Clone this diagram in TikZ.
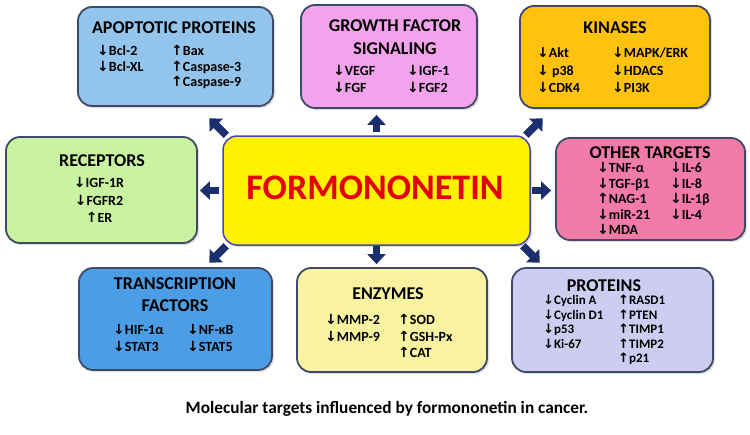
\documentclass[tikz,border=0pt]{standalone}
\usepackage{fontspec}
\setmainfont{Carlito}
\newfontfamily\arrfont{DejaVu Sans}
\usetikzlibrary{arrows.meta,shadows}

\definecolor{apoblue}{HTML}{93C5EC}
\definecolor{growpink}{HTML}{F3A2EC}
\definecolor{kingold}{HTML}{FFC20E}
\definecolor{recgreen}{HTML}{C9F3A0}
\definecolor{othpink}{HTML}{F37BA8}
\definecolor{tfblue}{HTML}{4B9DE6}
\definecolor{enzyellow}{HTML}{F9F2A0}
\definecolor{protlav}{HTML}{CDCDF2}
\definecolor{edgegray}{HTML}{3E4A66}
\definecolor{navy}{HTML}{1B2F6E}
\definecolor{fmred}{HTML}{E2000F}

\newcommand{\dn}{{\arrfont\char"2193}}
\newcommand{\up}{{\arrfont\char"2191}}

\begin{document}
\begin{tikzpicture}[x=1pt, y=-1pt,
    box/.style={draw=edgegray, line width=1.8pt, rounded corners=14pt,
        drop shadow={opacity=0.25, shadow xshift=2pt, shadow yshift=-2pt}},
    ttl/.style={font=\bfseries\fontsize{18}{20}\selectfont, inner sep=0, anchor=base},
    item/.style={font=\bfseries\fontsize{14}{16}\selectfont, inner sep=0, anchor=base west},
    blk/.style={draw=navy, line width=7.5pt, -{Triangle[width=18pt, length=10pt]}}]
    \useasboundingbox (0,0) rectangle (750,434);

    % boxes
    \node[box, fill=apoblue, minimum width=195pt, minimum height=99pt] (apo) at (175.5,56.5) {};
    \node[box, fill=growpink, minimum width=176pt, minimum height=103pt] (gf) at (389,56.5) {};
    \node[box, fill=kingold, minimum width=190pt, minimum height=102pt] (kin) at (615,57) {};
    \node[box, fill=recgreen, minimum width=191pt, minimum height=106pt] (rc) at (101.5,190) {};
    \node[box, fill=othpink, minimum width=189pt, minimum height=102pt] (ot) at (650.5,189) {};
    \node[box, fill=tfblue, minimum width=193pt, minimum height=102pt] (tf) at (175.5,319) {};
    \node[box, fill=enzyellow, minimum width=190pt, minimum height=104pt] (en) at (392,320) {};
    \node[box, fill=protlav, minimum width=201pt, minimum height=104pt] (pr) at (612.5,320) {};
    \node[draw=blue!45!gray, line width=1.5pt, fill=yellow, rounded corners=14pt,
        minimum width=307pt, minimum height=109pt,
        drop shadow={opacity=0.25, shadow xshift=2pt, shadow yshift=-2pt}] (fm) at (376.5,190.5) {};
    \node[inner sep=0, anchor=base, text=fmred, font=\bfseries\fontsize{36}{40}\selectfont]
        (fmtxt) at (375,199.5) {FORMONONETIN};

    % titles
    \node[ttl] (apottl) at (174,33) {APOPTOTIC PROTEINS};
    \node[ttl] (gfttl) at (395,31) {GROWTH FACTOR};
    \node[ttl] (gfttlb) at (395,54) {SIGNALING};
    \node[ttl] (kinttl) at (615,33) {KINASES};
    \node[ttl] (rcttl) at (102,166) {RECEPTORS};
    \node[ttl] (otttl) at (650,158) {OTHER TARGETS};
    \node[ttl] (tfttl) at (175,289) {TRANSCRIPTION};
    \node[ttl] (tfttlb) at (175,311) {FACTORS};
    \node[ttl] (enttl) at (388,299) {ENZYMES};
    \node[ttl] (prttl) at (604,291) {PROTEINS};

    % items
    \foreach \t [count=\i] in {\dn Bcl-2, \dn Bcl-XL}
        \node[item] (apoa\i) at (97,{55.5+15.5*(\i-1)}) {\t};
    \foreach \t [count=\i] in {\up Bax, \up Caspase-3, \up Caspase-9}
        \node[item] (apob\i) at (171,{55.5+15.5*(\i-1)}) {\t};
    \foreach \t [count=\i] in {\dn VEGF, \dn FGF}
        \node[item] (gfa\i) at (333,{75.5+17*(\i-1)}) {\t};
    \foreach \t [count=\i] in {\dn IGF-1, \dn FGF2}
        \node[item] (gfb\i) at (407,{75.5+17*(\i-1)}) {\t};
    \foreach \t [count=\i] in {\dn Akt, \dn\ p38, \dn CDK4}
        \node[item] (kina\i) at (537,{57.5+17.5*(\i-1)}) {\t};
    \foreach \t [count=\i] in {\dn MAPK/ERK, \dn HDACS, \dn PI3K}
        \node[item] (kinb\i) at (612,{57.5+17.5*(\i-1)}) {\t};
    \foreach \t [count=\i] in {\dn IGF-1R, \dn FGFR2, \up ER}
        \node[item, anchor=base] (rca\i) at (99,{187.5+17.5*(\i-1)}) {\t};
    \foreach \t [count=\i] in {\dn TNF-α, \dn TGF-β1, \up NAG-1, \dn miR-21, \dn MDA}
        \node[item] (ota\i) at (597,{172.5+15.5*(\i-1)}) {\t};
    \foreach \t [count=\i] in {\dn IL-6, \dn IL-8, \dn IL-1β, \dn IL-4}
        \node[item] (otb\i) at (670,{172.5+15.5*(\i-1)}) {\t};
    \foreach \t [count=\i] in {\dn HIF-1α, \dn STAT3}
        \node[item] (tfa\i) at (113,{334.5+17*(\i-1)}) {\t};
    \foreach \t [count=\i] in {\dn NF-κB, \dn STAT5}
        \node[item] (tfb\i) at (187,{334.5+17*(\i-1)}) {\t};
    \foreach \t [count=\i] in {\dn MMP-2, \dn MMP-9}
        \node[item] (ena\i) at (325,{324.5+16.5*(\i-1)}) {\t};
    \foreach \t [count=\i] in {\up SOD, \up GSH-Px, \up CAT}
        \node[item] (enb\i) at (398,{324.5+16.5*(\i-1)}) {\t};
    \foreach \t [count=\i] in {\dn Cyclin A, \dn Cyclin D1, \dn p53, \dn Ki-67}
        \node[item, font=\bfseries\fontsize{13}{14}\selectfont] (pra\i) at (543,{304.5+14.5*(\i-1)}) {\t};
    \foreach \t [count=\i] in {\up RASD1, \up PTEN, \up TIMP1, \up TIMP2, \up p21}
        \node[item, font=\bfseries\fontsize{13}{14}\selectfont] (prb\i) at (618,{304.5+14.5*(\i-1)}) {\t};

    % arrows
    \draw[blk, shorten <=3pt, shorten >=6pt] (fm.north) -- (fm.north |- gf.south);
    \draw[blk, shorten <=0pt, shorten >=3pt] (fm.south) -- (fm.south |- en.north);
    \draw[blk, shorten <=3pt, shorten >=2pt] (fm.west) -- (fm.west -| rc.east);
    \draw[blk, shorten <=1pt, shorten >=4pt] (fm.east) -- (fm.east -| ot.west);
    \draw[blk] ([xshift=4pt]fm.north west) -- ++(-17,-17);
    \draw[blk] ([xshift=-5pt]fm.north east) -- ++(17,-17);
    \draw[blk] ([xshift=4pt]fm.south west) -- ++(-17,17);
    \draw[blk] ([xshift=-8pt]fm.south east) -- ++(17,17);

    \node[inner sep=0, anchor=base, font=\bfseries\fontsize{17.3}{19}\selectfont]
        (cap) at (387,413) {Molecular targets influenced by formononetin in cancer.};
\end{tikzpicture}
\end{document}
